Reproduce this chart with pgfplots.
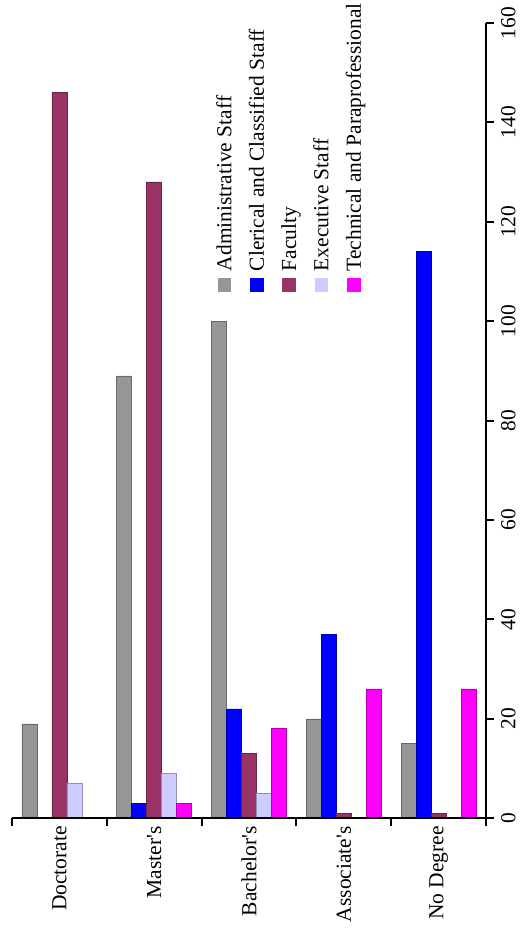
\documentclass[border=0pt]{standalone}
\usepackage{pgfplots}
\pgfplotsset{compat=1.18}
\usepackage{fontspec}
\setmainfont{Liberation Serif}
\definecolor{adm}{HTML}{969696}
\definecolor{cler}{HTML}{0000FF}
\definecolor{fac}{HTML}{993366}
\definecolor{exe}{HTML}{CCCCFF}
\definecolor{tec}{HTML}{FF00FF}
\newcommand{\bigf}{\fontsize{21.5}{25}\selectfont}
\begin{document}
\begin{tikzpicture}
\begin{axis}[
  scale only axis, width=475pt, height=797pt,
  xmin=-0.5, xmax=4.5, ymin=0, ymax=160,
  enlargelimits=false, clip=false, axis on top,
  ybar=0pt, bar width=0.158,
  axis x line*=bottom, axis y line*=right,
  axis line style={-, line width=2pt, black},
  tick align=outside,
  major tick length=8pt,
  every tick/.style={black, line width=2pt},
  xtick={-0.5,0.5,1.5,2.5,3.5,4.5},
  xticklabels={},
  extra x ticks={0,1,2,3,4},
  extra x tick labels={Doctorate,Master\textquotesingle s,Bachelor\textquotesingle s,Associate\textquotesingle s,No Degree},
  extra x tick style={major tick length=0pt},
  xticklabel style={font=\bigf, rotate=90, anchor=east, inner xsep=8pt, inner ysep=0pt},
  ytick={0,20,...,160},
  yticklabel style={font=\bigf, rotate=90, anchor=north, inner xsep=0pt, inner ysep=7pt},
  /pgf/number format/assume math mode=true,
]
\addplot[fill=adm, draw=adm!70!black, line width=0.5pt] coordinates {(0,19) (1,89) (2,100) (3,20) (4,15)};
\addplot[fill=cler, draw=cler!70!black, line width=0.5pt] coordinates {(0,0) (1,3) (2,22) (3,37) (4,114)};
\addplot[fill=fac, draw=fac!70!black, line width=0.5pt] coordinates {(0,146) (1,128) (2,13) (3,1) (4,1)};
\addplot[fill=exe, draw=exe!70!black, line width=0.5pt] coordinates {(0,7) (1,9) (2,5) (3,0) (4,0)};
\addplot[fill=tec, draw=tec!70!black, line width=0.5pt] coordinates {(0,0) (1,3) (2,18) (3,26) (4,26)};
\coordinate (O) at (rel axis cs:0,0);
\path (rel axis cs:0,0) ++(-12pt,-110pt);
\path (rel axis cs:1,1) ++(30pt,23pt);
\end{axis}
\begin{scope}[shift={(O)}]
  \foreach \c/\t [count=\i from 0] in {adm/Administrative Staff, cler/Clerical and Classified Staff, fac/Faculty, exe/Executive Staff, tec/Technical and Paraprofessional}{
    \node[fill=\c, minimum size=14pt, inner sep=0pt] at ({213pt+32.4pt*\i}, 534pt) {};
    \node[rotate=90, anchor=base west, inner sep=0pt, font=\bigf] at ({220pt+32.4pt*\i}, 548pt) {\t};
  }
\end{scope}
\end{tikzpicture}
\end{document}
